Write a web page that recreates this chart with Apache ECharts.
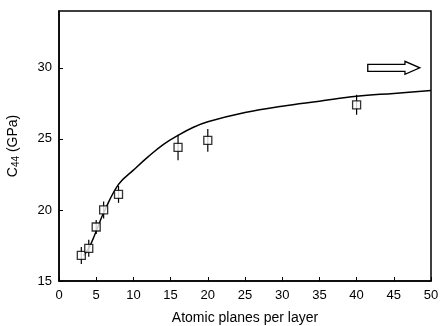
<!DOCTYPE html>
<html><head><meta charset="utf-8">
<script src="https://cdn.jsdelivr.net/npm/echarts@6/dist/echarts.min.js"></script>
<style>html,body{margin:0;padding:0;background:#fff}#c{width:440px;height:326px}</style>
</head><body><div id="c"></div>
<script>
const xPoints = [3, 4, 5, 6, 8, 16, 20, 40];
const yPoints = [16.8, 17.3, 18.8, 20.0, 21.1, 24.4, 24.9, 27.4];
const yErr = [0.6, 0.6, 0.5, 0.6, 0.6, 0.9, 0.8, 0.7];
const curveX = [3.3, 4, 5, 6, 8, 10, 12, 14, 16, 18, 20, 25, 30, 35, 40, 45, 50];
const curveY = [16.8, 17.3, 18.5, 19.8, 21.8, 22.8, 23.75, 24.6, 25.25, 25.8, 26.2, 26.85, 27.3, 27.65, 28.0, 28.2, 28.4];
const arrowX = [41.5, 46.5, 48.5];
const arrowY = 30.0;

const chart = echarts.init(document.getElementById('c'));
const font = 'Liberation Sans, Arial, sans-serif';
const option = {
  animation: false,
  grid: {left: 59, right: 9, top: 11, bottom: 45, show: true, borderColor: '#000', borderWidth: 1.5, backgroundColor: 'transparent', outerBoundsMode: 'none', containLabel: false},
  xAxis: {
    type: 'value', min: 0, max: 50, interval: 5,
    name: 'Atomic planes per layer', nameLocation: 'middle', nameGap: 30,
    nameTextStyle: {color: '#000', fontSize: 14, fontFamily: font},
    axisLine: {show: true, lineStyle: {color: '#000', width: 1.5}},
    axisTick: {show: true, inside: true, length: 4, lineStyle: {color: '#000'}},
    axisLabel: {color: '#000', fontSize: 13, fontFamily: font, margin: 8},
    splitLine: {show: false}
  },
  yAxis: {
    type: 'value', min: 15, max: 34, interval: 5,
    name: '{a|C}{b|44}{a| (GPa)}', nameLocation: 'middle', nameGap: 38, nameRotate: 90,
    nameTextStyle: {rich: {a: {color: '#000', fontSize: 14, fontFamily: font}, b: {color: '#000', fontSize: 10, fontFamily: font, verticalAlign: 'bottom', padding: [6, 0, 0, 0]}}},
    axisLine: {show: true, lineStyle: {color: '#000', width: 1.5}},
    axisTick: {show: true, inside: true, length: 4, lineStyle: {color: '#000'}},
    axisLabel: {color: '#000', fontSize: 13, fontFamily: font, margin: 7, showMaxLabel: false},
    splitLine: {show: false}
  },
  series: [
    {
      type: 'line', data: curveX.map((x, i) => [x, curveY[i]]), smooth: 0.4, showSymbol: false,
      lineStyle: {color: '#000', width: 1.5}, z: 2
    },
    {
      type: 'custom',
      data: xPoints.map((x, i) => [x, yPoints[i] - yErr[i], yPoints[i] + yErr[i]]),
      renderItem: function (params, api) {
        const lo = api.coord([api.value(0), api.value(1)]);
        const hi = api.coord([api.value(0), api.value(2)]);
        return {type: 'line', shape: {x1: lo[0], y1: lo[1], x2: hi[0], y2: hi[1]}, style: {stroke: '#000', lineWidth: 1.2}};
      }, z: 3
    },
    {
      type: 'scatter', data: xPoints.map((x, i) => [x, yPoints[i]]), symbol: 'rect', symbolSize: 8,
      itemStyle: {color: '#fff', borderColor: '#000', borderWidth: 1.3}, z: 4
    }
  ]
};
chart.setOption(option);
const p0 = chart.convertToPixel({gridIndex: 0}, [arrowX[0], arrowY]);
const p1 = chart.convertToPixel({gridIndex: 0}, [arrowX[1], arrowY]);
const p2 = chart.convertToPixel({gridIndex: 0}, [arrowX[2], arrowY]);
const cy = p0[1];
chart.setOption({
  graphic: [{
    type: 'polygon',
    shape: {points: [[p0[0], cy - 3.5], [p1[0], cy - 3.5], [p1[0], cy - 6.5], [p2[0], cy], [p1[0], cy + 6.5], [p1[0], cy + 3.5], [p0[0], cy + 3.5]]},
    style: {fill: '#fff', stroke: '#000', lineWidth: 1.3}
  }]
});
</script></body></html>
